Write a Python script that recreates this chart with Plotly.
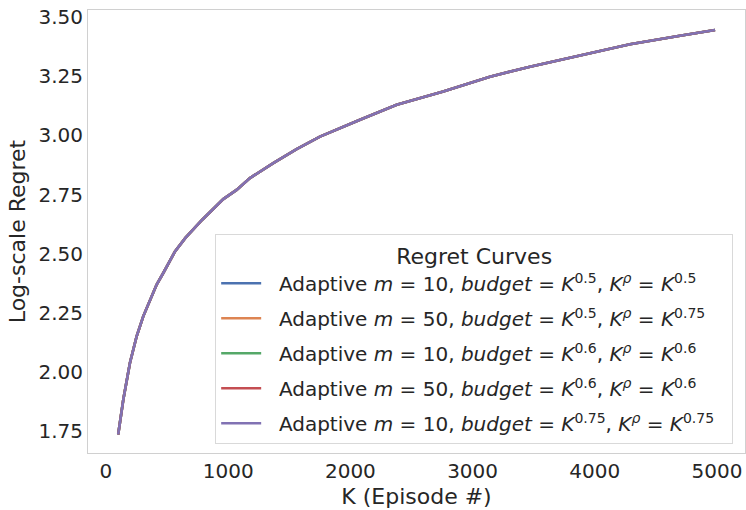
import plotly.graph_objects as go

# Episode numbers (K) and log-scale regret
K = [100, 142, 196, 251, 305, 360, 415, 469, 565, 650, 790, 960, 1069, 1178,
     1369, 1560, 1751, 2079, 2379, 2760, 3142, 3470, 3879, 4288, 4697, 4984]
regret = [1.737, 1.885, 2.039, 2.152, 2.236, 2.306, 2.370, 2.419, 2.510, 2.567,
          2.645, 2.731, 2.770, 2.820, 2.883, 2.942, 2.995, 3.066, 3.129, 3.185,
          3.248, 3.290, 3.337, 3.385, 3.421, 3.445]

# All five configurations overlap in the reference
series_names = [
    "Adaptive <i>m</i> = 10, <i>budget</i> = <i>K</i><sup>0.5</sup>, <i>K</i><sup><i>ρ</i></sup> = <i>K</i><sup>0.5</sup>",
    "Adaptive <i>m</i> = 50, <i>budget</i> = <i>K</i><sup>0.5</sup>, <i>K</i><sup><i>ρ</i></sup> = <i>K</i><sup>0.75</sup>",
    "Adaptive <i>m</i> = 10, <i>budget</i> = <i>K</i><sup>0.6</sup>, <i>K</i><sup><i>ρ</i></sup> = <i>K</i><sup>0.6</sup>",
    "Adaptive <i>m</i> = 50, <i>budget</i> = <i>K</i><sup>0.6</sup>, <i>K</i><sup><i>ρ</i></sup> = <i>K</i><sup>0.6</sup>",
    "Adaptive <i>m</i> = 10, <i>budget</i> = <i>K</i><sup>0.75</sup>, <i>K</i><sup><i>ρ</i></sup> = <i>K</i><sup>0.75</sup>",
]
series_values = [regret, regret, regret, regret, regret]
colors = ["#4C72B0", "#DD8452", "#55A868", "#C44E52", "#8172B3"]

x_ticks = [0, 1000, 2000, 3000, 4000, 5000]
y_ticks = [1.75, 2.00, 2.25, 2.50, 2.75, 3.00, 3.25, 3.50]

FONT = "DejaVu Sans"
PAD = "\u00a0\u00a0"

fig = go.Figure()
for i, (name, vals) in enumerate(zip(series_names, series_values)):
    fig.add_trace(go.Scatter(
        x=K, y=vals, mode="lines", name=PAD + name + PAD,
        line=dict(color=colors[i], width=2.6),
        legendgroup=f"g{i}",
    ))

fig.update_layout(
    width=746, height=510,
    margin=dict(l=88, r=1, t=10, b=57),
    paper_bgcolor="white", plot_bgcolor="white",
    font=dict(family=FONT, size=20, color="#262626"),
    showlegend=True,
    legend=dict(
        title=dict(text="Regret Curves", side="top center",
                   font=dict(family=FONT, size=22, color="#262626")),
        font=dict(family=FONT, size=20, color="#262626"),
        x=0.982, xanchor="right", y=0.02, yanchor="bottom",
        bgcolor="rgba(255,255,255,0.85)",
        bordercolor="#d9d9d9", borderwidth=1,
        itemwidth=40,
        tracegroupgap=6,
    ),
    xaxis=dict(
        range=[-147, 5229],
        tickvals=x_ticks, ticktext=[str(v) for v in x_ticks],
        showgrid=False, zeroline=False,
        showline=True, mirror=True, linecolor="#d0d0d0", linewidth=1,
        ticks="", tickfont=dict(size=20),
        title=dict(text="K (Episode #)", font=dict(size=22), standoff=6),
    ),
    yaxis=dict(
        range=[1.659, 3.5295],
        tickvals=y_ticks, ticktext=[f"{v:.2f}" for v in y_ticks],
        showgrid=False, zeroline=False,
        showline=True, mirror=True, linecolor="#d0d0d0", linewidth=1,
        ticks="", tickfont=dict(size=20),
        title=dict(text="Log-scale Regret", font=dict(size=22), standoff=6),
    ),
)

fig.write_html("out.html")
